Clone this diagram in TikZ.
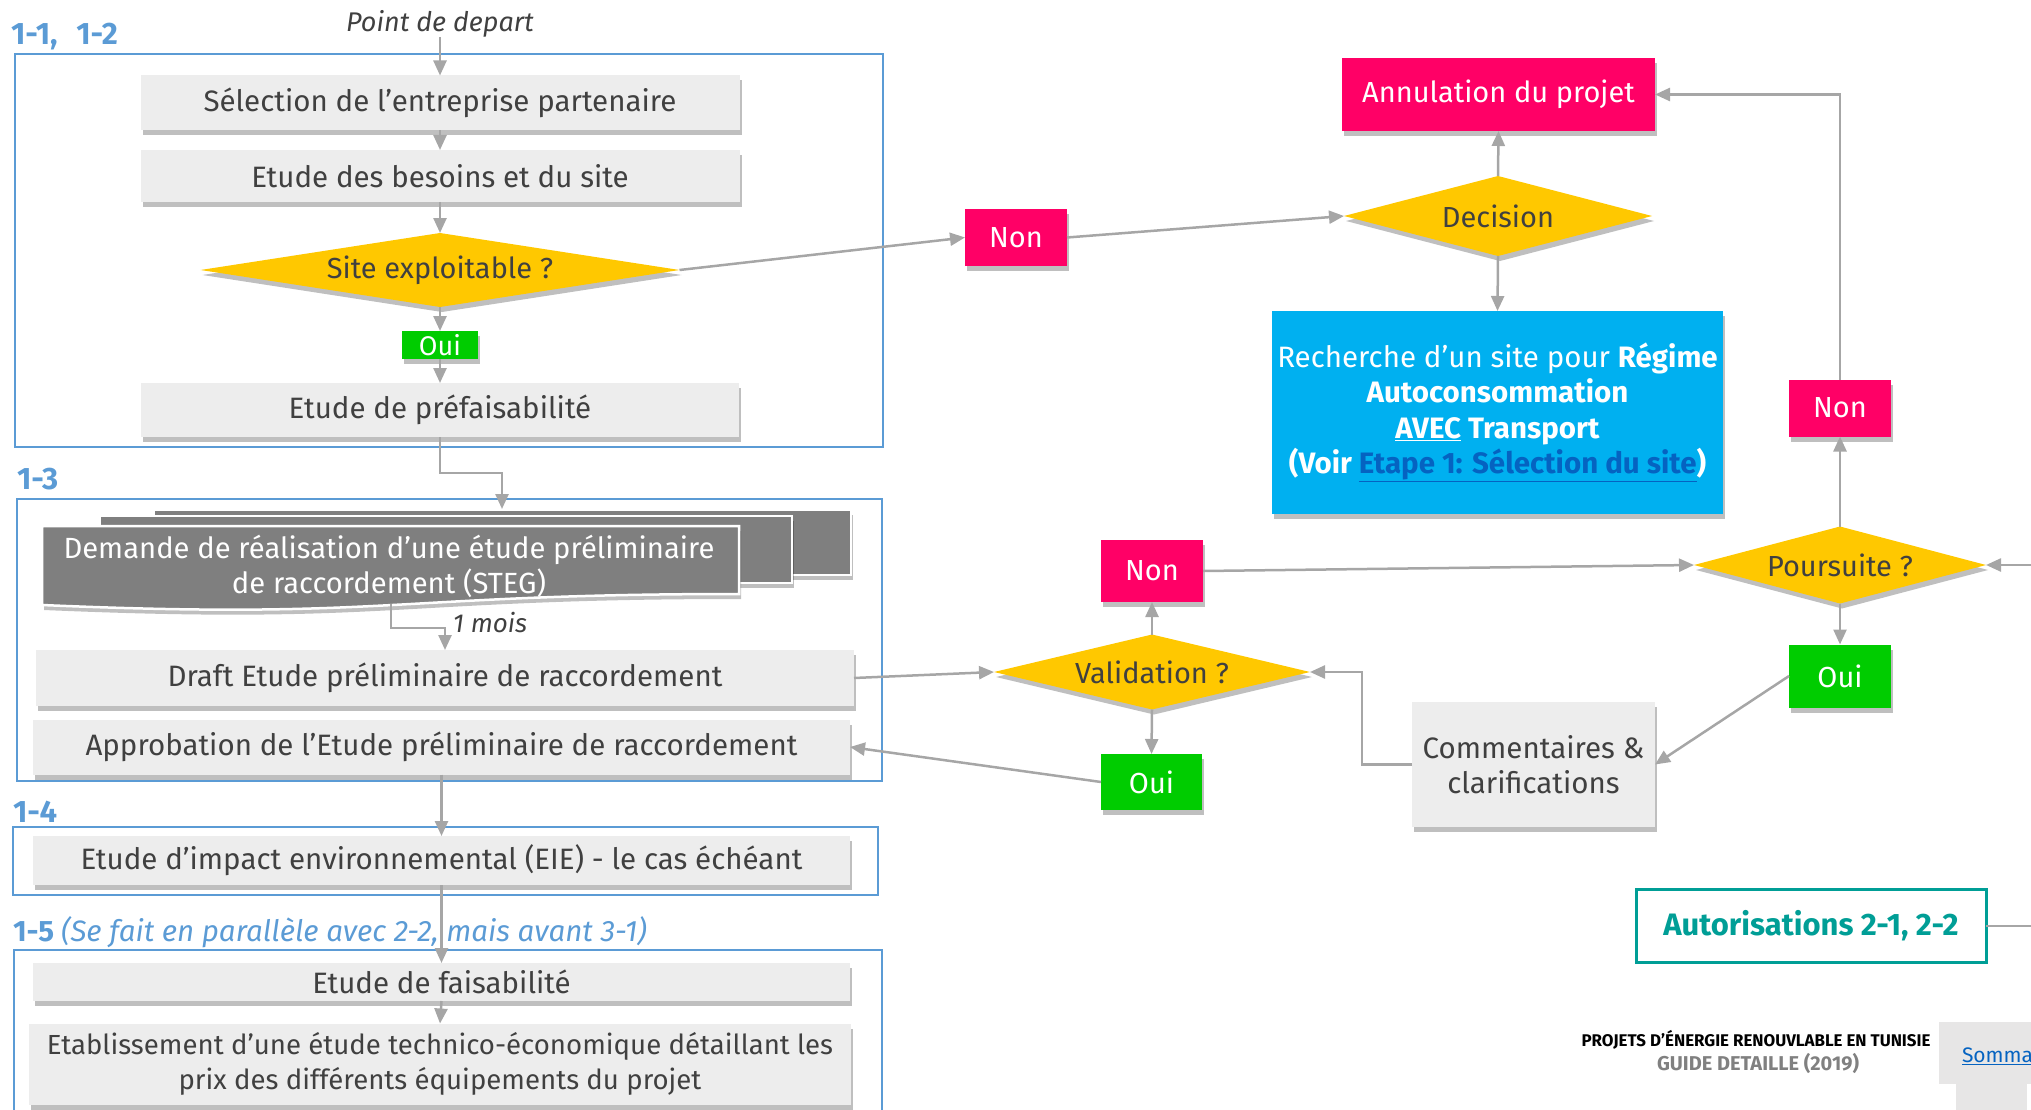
\documentclass[tikz,border=0pt]{standalone}
\usepackage{fontspec}
\setmainfont{Fira Sans}
\usetikzlibrary{shapes.geometric,arrows.meta,shadows}
\definecolor{frameblue}{RGB}{91,155,213}
\definecolor{boxgray}{RGB}{237,237,237}
\definecolor{txtgray}{RGB}{64,64,64}
\definecolor{ygold}{RGB}{255,200,0}
\definecolor{pinkc}{RGB}{255,0,102}
\definecolor{okgreen}{RGB}{0,204,0}
\definecolor{skyb}{RGB}{0,176,240}
\definecolor{linkblue}{RGB}{5,99,193}
\definecolor{tealc}{RGB}{0,158,150}
\definecolor{lgray}{RGB}{166,166,166}
\definecolor{dgray}{RGB}{127,127,127}
\definecolor{footgray}{RGB}{128,128,128}
\definecolor{somgray}{RGB}{231,230,230}
\newcommand\fsz[2]{\fontsize{#1}{#2}\selectfont}
\begin{document}
\begin{tikzpicture}[x=1pt,y=-1pt,
  every node/.style={inner sep=0pt, outer sep=0pt},
  shad/.style={drop shadow={shadow xshift=2pt, shadow yshift=-5pt, opacity=0.25, fill=black}},
  gbox/.style={fill=boxgray, text=txtgray, font=\fsz{29.5}{35}, align=center, shad},
  pbox/.style={fill=pinkc, text=white, font=\fsz{29}{34}, shad},
  obox/.style={fill=okgreen, text=white, font=\fsz{29}{34}, shad},
  dia/.style={diamond, fill=ygold, text=txtgray, font=\fsz{29}{34}, shad},
  conn/.style={draw=lgray, line width=2.5pt, -{Triangle[length=15pt,width=13pt]}},
  cline/.style={draw=lgray, line width=2.5pt},
  framebox/.style={draw=frameblue, line width=2.5pt},
  seclab/.style={text=frameblue, font=\bfseries\fsz{31}{34}, anchor=west},
  layer/.style={fill=dgray, draw=white, line width=2.5pt}
]
\useasboundingbox (0,0) rectangle (2031,1110);
\clip (0,0) rectangle (2031,1110);

% section frames
\draw[framebox] (15,54) rectangle (883,447);
\draw[framebox] (17,499) rectangle (882,781);
\draw[framebox] (13,827) rectangle (878,895);
\draw[framebox] (14,950) rectangle (882,1130);

% section labels
\node[seclab] (lab1) at (11,37) {1-1,\hspace{0.6em}1-2};
\node[seclab] (lab2) at (17,479) {1-3};
\node[seclab] (lab3) at (13,812) {1-4};
\node[seclab, font=\bfseries\fsz{29.5}{34}] (lab4) at (13,932) {1-5 {\mdseries\itshape (Se fait en parallèle avec 2-2, mais avant 3-1)}};

% first section
\node[font=\itshape\fsz{27}{30}, text=txtgray] (start) at (440,24) {Point de depart};
\node[gbox, minimum width=599, minimum height=55] (B1) at (440,103) {Sélection de l’entreprise partenaire};
\node[gbox, minimum width=599, minimum height=52] (B2) at (440,176) {Etude des besoins et du site};
\node[dia, aspect=6.47, minimum width=479, minimum height=74] (site) at (440,270) {Site exploitable ?};
\node[obox, font=\fsz{27}{30}, minimum width=76, minimum height=28] (oui1) at (440,345) {Oui};
\node[gbox, minimum width=598, minimum height=54] (B3) at (440,410) {Etude de préfaisabilité};

% document stack
\draw[layer, shad] (154,510) rectangle (851,575);
\draw[layer, shad] (100,516) rectangle (792,583);
\draw[layer, shad] (42,526) -- (739,526) -- (739,594) .. controls (390,594) and (390,620) .. (42,605) -- cycle;
\node[text=white, font=\fsz{29.2}{35}, align=center] (dem) at (389,566) {Demande de réalisation d’une étude préliminaire\\de raccordement (STEG)};
\coordinate (stacktop) at (502,509);
\coordinate (stackbot) at (391,604);
\node[font=\itshape\fsz{26}{30}, text=txtgray] (mois) at (490,623) {1 mois};

\node[gbox, minimum width=818, minimum height=56] (draft) at (445,678) {Draft Etude préliminaire de raccordement};
\node[gbox, minimum width=817, minimum height=55] (appro) at (441.5,747) {Approbation de l’Etude préliminaire de raccordement};
\node[gbox, minimum width=817, minimum height=49] (eie) at (441.5,860.5) {Etude d’impact environnemental (EIE) - le cas échéant};
\node[gbox, minimum width=817, minimum height=38] (faisa) at (441.5,982) {Etude de faisabilité};
\node[gbox, font=\fsz{27.6}{35}, minimum width=822, minimum height=81] (etab) at (440,1064) {Etablissement d’une étude technico-économique détaillant les\\prix des différents équipements du projet};

% right part
\node[pbox, minimum width=102, minimum height=57] (non1) at (1016,237.5) {Non};
\node[dia, aspect=3.85, minimum width=308, minimum height=80] (deci) at (1498,216) {Decision};
\node[pbox, minimum width=313, minimum height=73] (annul) at (1498.5,94.5) {Annulation du projet};
\node[fill=skyb, text=white, font=\fsz{29.5}{35.3}, align=center, minimum width=451, minimum height=203, shad] (blue) at (1497.5,412.5)
  {Recherche d’un site pour \textbf{Régime}\\\textbf{Autoconsommation}\\\textbf{\underline{AVEC} Transport}\\\textbf{(Voir \textcolor{linkblue}{\underline{Etape 1: Sélection du site}})}};
\node[pbox, minimum width=102, minimum height=57] (non2) at (1840,408) {Non};
\node[dia, aspect=3.79, minimum width=292, minimum height=77] (pours) at (1840,565) {Poursuite ?};
\node[obox, minimum width=102, minimum height=63] (oui2) at (1840,676) {Oui};
\node[gbox, minimum width=243, minimum height=125] (comm) at (1533.5,764.5) {Commentaires \&\\clarifications};
\node[dia, aspect=4.21, minimum width=316, minimum height=75] (valid) at (1152,672) {Validation ?};
\node[pbox, minimum width=102, minimum height=62] (non3) at (1152,571) {Non};
\node[obox, minimum width=101, minimum height=56] (oui3) at (1151.5,782) {Oui};
\node[draw=tealc, line width=3pt, fill=white, text=tealc, font=\bfseries\fsz{31}{34}, minimum width=350, minimum height=73] (auto) at (1811,926) {Autorisations 2-1, 2-2};
\coordinate (rin) at (2045,565);
\coordinate (rout) at (2045,926);

% footer
\node[font=\bfseries\fsz{16.9}{19}, text=black] (ft1) at (1756,1040) {PROJETS D’ÉNERGIE RENOUVLABLE EN TUNISIE};
\node[font=\bfseries\fsz{20}{22}, text=footgray] (ft2) at (1758,1063) {GUIDE DETAILLE (2019)};
\fill[somgray] (1939,1022) rectangle (2045,1084);
\fill[somgray] (1956,1084) rectangle (2027,1120);
\node[anchor=west, text=linkblue, font=\fsz{21}{25}] (som) at (1962,1055) {\underline{Sommaire}};

% connectors left column
\draw[conn] (start.south) -- (B1.north);
\draw[conn] (B1.south) -- (B2.north);
\draw[conn] (B2.south) -- (site.north);
\draw[conn] (site.south) -- (oui1.north);
\draw[conn] (oui1.south) -- (B3.north);
\draw[conn] (B3.south) |- (502,473) -- (stacktop);
\draw[conn] (stackbot) |- (440,628) -| (draft.north);
\draw[conn] (appro.south) -- (eie.north);
\draw[conn] (eie.south) -- (faisa.north);
\draw[conn] (faisa.south) -- (etab.north);

% connectors right
\draw[conn] (site.east) -- (non1.west);
\draw[conn] (non1.east) -- (deci.west);
\draw[conn] (deci.north) -- (annul.south);
\draw[conn] (deci.south) -- (blue.north);
\draw[conn] (non2.north) |- (annul.east);
\draw[conn] (pours.north) -- (non2.south);
\draw[conn] (pours.south) -- (oui2.north);
\draw[conn] (rin) -- (pours.east);
\draw[conn] (oui2.west) -- (comm.east);
\draw[conn] (comm.west) -- (1362,764.5) |- (valid.east);
\draw[conn] (valid.north) -- (non3.south);
\draw[conn] (valid.south) -- (oui3.north);
\draw[conn] (non3.east) -- (pours.west);
\draw[conn] (draft.east) -- (valid.west);
\draw[conn] (oui3.west) -- (appro.east);
\draw[cline] (auto.east) -- (rout);
\end{tikzpicture}
\end{document}
